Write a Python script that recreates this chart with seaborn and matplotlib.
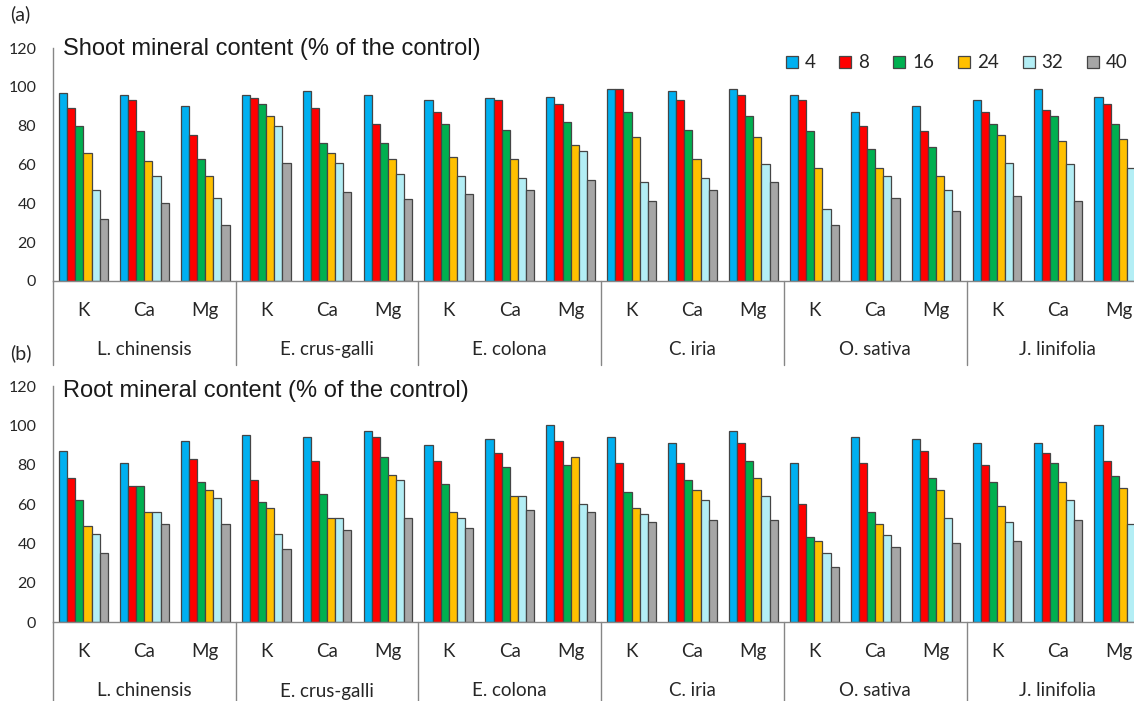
import pandas as pd
import seaborn as sns
import matplotlib.pyplot as plt

species = ['L. chinensis', 'E. crus-galli', 'E. colona', 'C. iria', 'O. sativa', 'J. linifolia']
minerals = ['K', 'Ca', 'Mg']
doses = ['4', '8', '16', '24', '32', '40']
colors = ['#00B0F0', '#FF0000', '#00B050', '#FFC000', '#B3EEF5', '#A6A6A6']

# Shoot values (% of control), rows = K, Ca, Mg ; columns = doses
shoot_l_chinensis = [[97, 89, 80, 66, 47, 32], [96, 93, 77, 62, 54, 40], [90, 75, 63, 54, 43, 29]]
shoot_e_crusgalli = [[96, 94, 91, 85, 80, 61], [98, 89, 71, 66, 61, 46], [96, 81, 71, 63, 55, 42]]
shoot_e_colona = [[93, 87, 81, 64, 54, 45], [94, 93, 78, 63, 53, 47], [95, 91, 82, 70, 67, 52]]
shoot_c_iria = [[99, 99, 87, 74, 51, 41], [98, 93, 78, 63, 53, 47], [99, 96, 85, 74, 60, 51]]
shoot_o_sativa = [[96, 93, 77, 58, 37, 29], [87, 80, 68, 58, 54, 43], [90, 77, 69, 54, 47, 36]]
shoot_j_linifolia = [[93, 87, 81, 75, 61, 44], [99, 88, 85, 72, 60, 41], [95, 91, 81, 73, 58, 45]]

# Root values (% of control)
root_l_chinensis = [[87, 73, 62, 49, 45, 35], [81, 69, 69, 56, 56, 50], [92, 83, 71, 67, 63, 50]]
root_e_crusgalli = [[95, 72, 61, 58, 45, 37], [94, 82, 65, 53, 53, 47], [97, 94, 84, 75, 72, 53]]
root_e_colona = [[90, 82, 70, 56, 53, 48], [93, 86, 79, 64, 64, 57], [100, 92, 80, 84, 60, 56]]
root_c_iria = [[94, 81, 66, 58, 55, 51], [91, 81, 72, 67, 62, 52], [97, 91, 82, 73, 64, 52]]
root_o_sativa = [[81, 60, 43, 41, 35, 28], [94, 81, 56, 50, 44, 38], [93, 87, 73, 67, 53, 40]]
root_j_linifolia = [[91, 80, 71, 59, 51, 41], [91, 86, 81, 71, 62, 52], [100, 82, 74, 68, 50, 46]]

shoot = [shoot_l_chinensis, shoot_e_crusgalli, shoot_e_colona, shoot_c_iria, shoot_o_sativa, shoot_j_linifolia]
root = [root_l_chinensis, root_e_crusgalli, root_e_colona, root_c_iria, root_o_sativa, root_j_linifolia]

order = [sp + ' ' + m for sp in species for m in minerals]


def to_long(values):
    rows = []
    for sp, block in zip(species, values):
        for m, vals in zip(minerals, block):
            for d, v in zip(doses, vals):
                rows.append({'group': sp + ' ' + m, 'dose': d, 'value': v})
    return pd.DataFrame(rows)


sns.set_theme(style='white')
plt.rcParams['font.family'] = ['Lato', 'DejaVu Sans']

fig = plt.figure(figsize=(11.34, 7.01), dpi=100)
ax_top = fig.add_axes([53 / 1134, 1 - 281 / 701, 1 - 53 / 1134, 233 / 701])
ax_bot = fig.add_axes([53 / 1134, 1 - 622 / 701, 1 - 53 / 1134, 236 / 701])


def draw(ax, values, show_legend, sep_len):
    df = to_long(values)
    sns.barplot(data=df, x='group', y='value', hue='dose', order=order, hue_order=doses,
                palette=colors, saturation=1, errorbar=None, edgecolor='#454545',
                linewidth=0.9, legend=show_legend, ax=ax)
    ax.set_xlim(-0.5, 17.25)
    ax.set_ylim(0, 120)
    ax.set_yticks(range(0, 121, 20))
    ax.set_xticks(range(len(order)))
    ax.set_xticklabels(minerals * len(species))
    ax.set_xlabel('')
    ax.set_ylabel('')
    ax.tick_params(axis='y', length=0, pad=12, labelsize=11.5, colors='#262626')
    ax.tick_params(axis='x', length=0, pad=15, labelsize=13.5, colors='#262626')
    sns.despine(ax=ax)
    for s in ['left', 'bottom']:
        ax.spines[s].set_color('#868686')
        ax.spines[s].set_linewidth(1)
    # species separators and names under the mineral labels
    for i, sp in enumerate(species):
        ax.plot([3 * i - 0.5, 3 * i - 0.5], [0, -sep_len], transform=ax.get_xaxis_transform(),
                color='#868686', lw=1, clip_on=False)
        ax.annotate(sp, xy=(3 * i + 1, 0), xycoords=ax.get_xaxis_transform(),
                    xytext=(0, -69), textcoords='offset pixels', ha='center', va='center',
                    fontsize=13.5, color='#262626')


draw(ax_top, shoot, True, 84 / 233)
draw(ax_bot, root, False, 0.4)

ax_top.legend(loc='center right', bbox_to_anchor=(1128 / 1134, 1 - 63 / 701),
              bbox_transform=fig.transFigure, ncol=6, frameon=False, fontsize=13.5,
              handlelength=0.64, handleheight=0.62, handletextpad=0.37,
              columnspacing=1.28, borderpad=0, borderaxespad=0)

fig.text(63 / 1134, 1 - 55 / 701, 'Shoot mineral content (% of the control)',
         fontsize=17, family='Liberation Sans', va='baseline', color='#1a1a1a')
fig.text(63 / 1134, 1 - 397 / 701, 'Root mineral content (% of the control)',
         fontsize=17, family='Liberation Sans', va='baseline', color='#1a1a1a')
fig.text(10 / 1134, 1 - 14 / 701, '(a)', fontsize=14, va='center', color='#262626')
fig.text(10 / 1134, 1 - 353 / 701, '(b)', fontsize=14, va='center', color='#262626')

fig.savefig('out.png', dpi=100)
